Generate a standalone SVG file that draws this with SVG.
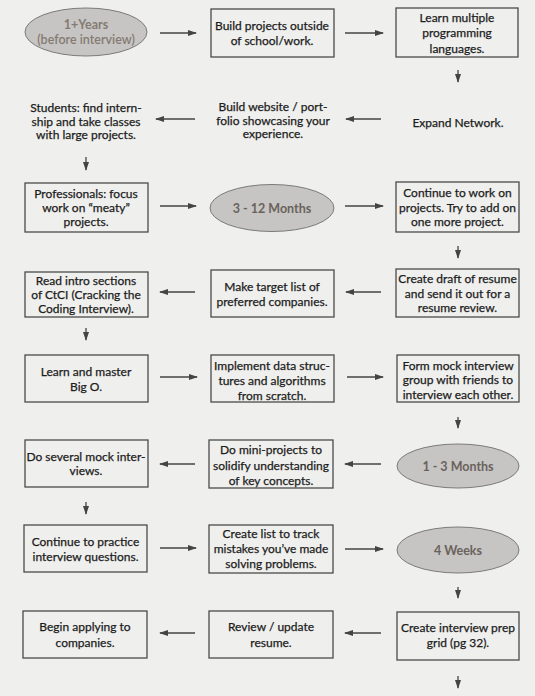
<svg xmlns="http://www.w3.org/2000/svg" width="535" height="696" viewBox="0 0 535 696">
<style>
.bg{fill:#efefed}
.box{fill:none;stroke:#4a4a4a;stroke-width:1.3}
.ell{fill:#c6c5c3;stroke:#7a7a7a;stroke-width:1}
.t{font-family:Lato,"Liberation Sans",sans-serif;font-size:12px;fill:#1c1c1c;stroke:#1c1c1c;stroke-width:0.25;text-anchor:middle}
.et{font-family:Lato,"Liberation Sans",sans-serif;font-size:12.5px;font-weight:bold;fill:#6a625c;text-anchor:middle}
.et2{fill:#857b73}
.c{stroke:#444;stroke-width:1.3;fill:none;marker-end:url(#ah)}
</style>
<defs>
<marker id="ah" markerUnits="userSpaceOnUse" markerWidth="9" markerHeight="7" refX="8" refY="3.5" orient="auto">
<path d="M0,0.5 L9,3.5 L0,6.5 z" fill="#444"/>
</marker>
</defs>
<rect class="bg" x="0" y="0" width="535" height="696"/>

<g id="connectors">
<line class="c" x1="160" y1="33" x2="196" y2="33"/>
<line class="c" x1="345" y1="33" x2="383" y2="33"/>
<line class="c" x1="458" y1="70" x2="458" y2="82"/>
<line class="c" x1="381" y1="119" x2="346" y2="119"/>
<line class="c" x1="195" y1="119" x2="156" y2="119"/>
<line class="c" x1="86" y1="157" x2="86" y2="170"/>
<line class="c" x1="160" y1="206" x2="196" y2="206"/>
<line class="c" x1="345" y1="206" x2="383" y2="206"/>
<line class="c" x1="458" y1="246" x2="458" y2="258"/>
<line class="c" x1="381" y1="292" x2="346" y2="292"/>
<line class="c" x1="195" y1="292" x2="160" y2="292"/>
<line class="c" x1="86" y1="328" x2="86" y2="340"/>
<line class="c" x1="160" y1="377" x2="197" y2="377"/>
<line class="c" x1="347" y1="377" x2="383" y2="377"/>
<line class="c" x1="458" y1="417" x2="458" y2="428"/>
<line class="c" x1="381" y1="464" x2="345" y2="464"/>
<line class="c" x1="195" y1="464" x2="160" y2="464"/>
<line class="c" x1="86" y1="502" x2="86" y2="514"/>
<line class="c" x1="160" y1="548" x2="196" y2="548"/>
<line class="c" x1="345" y1="549" x2="383" y2="549"/>
<line class="c" x1="458" y1="587" x2="458" y2="598"/>
<line class="c" x1="381" y1="633" x2="345" y2="633"/>
<line class="c" x1="195" y1="633" x2="160" y2="633"/>
<line class="c" x1="458" y1="676" x2="458" y2="688"/>
</g>

<g id="n1"><ellipse class="ell" cx="86" cy="32" rx="61" ry="24"/>
<text class="et et2" x="86" y="29">1+Years</text><text class="et et2" x="86" y="44" style="font-weight:600">(before interview)</text></g>
<g id="n2"><rect class="box" x="211" y="9" width="123" height="48"/>
<text class="t" x="272" y="29.5">Build projects outside</text><text class="t" x="272" y="45">of school/work.</text></g>
<g id="n3"><rect class="box" x="396" y="8" width="122" height="49"/>
<text class="t" x="457" y="21.5">Learn multiple</text><text class="t" x="457" y="37">programming</text><text class="t" x="457" y="52.5">languages.</text></g>
<g id="n4"><text class="t" x="458" y="127">Expand Network.</text></g>
<g id="n5"><text class="t" x="273" y="111">Build website / port-</text><text class="t" x="273" y="124.5">folio showcasing your</text><text class="t" x="273" y="138">experience.</text></g>
<g id="n6"><text class="t" x="86" y="112">Students: find intern-</text><text class="t" x="86" y="125.5">ship and take classes</text><text class="t" x="86" y="139">with large projects.</text></g>
<g id="n7"><rect class="box" x="25" y="183" width="123" height="49"/>
<text class="t" x="86" y="197.5">Professionals: focus</text><text class="t" x="86" y="211.5">work on “meaty”</text><text class="t" x="86" y="225.5">projects.</text></g>
<g id="n8"><ellipse class="ell" cx="272" cy="208" rx="62" ry="23.5"/>
<text class="et" x="272" y="212.5">3 - 12 Months</text></g>
<g id="n9"><rect class="box" x="396" y="182" width="123" height="50"/>
<text class="t" x="457.5" y="196.5">Continue to work on</text><text class="t" x="457.5" y="211.5">projects. Try to add on</text><text class="t" x="457.5" y="226">one more project.</text></g>
<g id="n10"><rect class="box" x="396" y="269" width="123" height="48"/>
<text class="t" x="457.5" y="283">Create draft of resume</text><text class="t" x="457.5" y="297.5">and send it out for a</text><text class="t" x="457.5" y="312">resume review.</text></g>
<g id="n11"><rect class="box" x="211" y="270" width="123" height="47"/>
<text class="t" x="272" y="291">Make target list of</text><text class="t" x="272" y="306">preferred companies.</text></g>
<g id="n12"><rect class="box" x="25" y="272" width="123" height="45"/>
<text class="t" x="86" y="284.5">Read intro sections</text><text class="t" x="86" y="298.5">of CtCI (Cracking the</text><text class="t" x="86" y="312.5">Coding Interview).</text></g>
<g id="n13"><rect class="box" x="25" y="355" width="123" height="47"/>
<text class="t" x="86" y="376">Learn and master</text><text class="t" x="86" y="391">Big O.</text></g>
<g id="n14"><rect class="box" x="211" y="355" width="123" height="47"/>
<text class="t" x="272" y="369.5">Implement data struc-</text><text class="t" x="272" y="384.5">tures and algorithms</text><text class="t" x="272" y="399.5">from scratch.</text></g>
<g id="n15"><rect class="box" x="397" y="355" width="122" height="47"/>
<text class="t" x="458" y="369.5">Form mock interview</text><text class="t" x="458" y="384">group with friends to</text><text class="t" x="458" y="398.5">interview each other.</text></g>
<g id="n16"><ellipse class="ell" cx="458" cy="466" rx="61" ry="22"/>
<text class="et" x="458" y="470.5">1 - 3 Months</text></g>
<g id="n17"><rect class="box" x="209" y="440" width="124" height="48"/>
<text class="t" x="271" y="454">Do mini-projects to</text><text class="t" x="271" y="469.5">solidify understanding</text><text class="t" x="271" y="485">of key concepts.</text></g>
<g id="n18"><rect class="box" x="25" y="440" width="123" height="47"/>
<text class="t" x="86" y="460.5">Do several mock inter-</text><text class="t" x="86" y="475">views.</text></g>
<g id="n19"><rect class="box" x="24" y="525" width="123" height="47"/>
<text class="t" x="85.5" y="546">Continue to practice</text><text class="t" x="85.5" y="561">interview questions.</text></g>
<g id="n20"><rect class="box" x="209" y="525" width="124" height="48"/>
<text class="t" x="271" y="537.5">Create list to track</text><text class="t" x="271" y="552.5">mistakes you’ve made</text><text class="t" x="271" y="568">solving problems.</text></g>
<g id="n21"><ellipse class="ell" cx="458" cy="550" rx="61" ry="23"/>
<text class="et" x="458" y="554.5">4 Weeks</text></g>
<g id="n22"><rect class="box" x="397" y="612" width="122" height="48"/>
<text class="t" x="458" y="632">Create interview prep</text><text class="t" x="458" y="647">grid (pg 32).</text></g>
<g id="n23"><rect class="box" x="209" y="611" width="124" height="47"/>
<text class="t" x="271" y="631">Review / update</text><text class="t" x="271" y="646.5">resume.</text></g>
<g id="n24"><rect class="box" x="23" y="611" width="124" height="47"/>
<text class="t" x="85" y="631">Begin applying to</text><text class="t" x="85" y="646.5">companies.</text></g>
</svg>
